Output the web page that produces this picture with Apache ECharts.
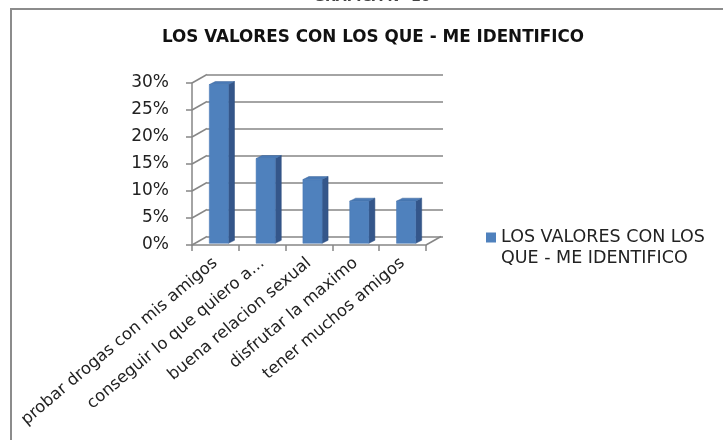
<!DOCTYPE html>
<html lang="es">
<head>
    <meta charset="UTF-8">
    <title>Los valores con los que me identifico</title>
    <script src="https://cdn.jsdelivr.net/npm/echarts@6/dist/echarts.min.js"></script>
    <style>
        html, body { margin: 0; padding: 0; background: #fff; }
        #chart_wrap { width: 723px; height: 440px; }
    </style>
</head>
<body>
<div id="chart_wrap"></div>
<script type="text/javascript">
// datos
var categories = ["probar drogas con mis amigos", "conseguir lo que quiero a...", "buena relacion sexual", "disfrutar la maximo", "tener muchos amigos"];
var values = [0.294, 0.157, 0.118, 0.078, 0.078];
var yTicks = [0, 0.05, 0.1, 0.15, 0.2, 0.25, 0.3];
var seriesName = "LOS VALORES CON LOS QUE - ME IDENTIFICO";

// profundidad del "3D"
var DX = 15, DY = -8.5;
var FONT = "DejaVu Sans";

var chart = echarts.init(document.getElementById("chart_wrap"));

// barras con cara frontal, lateral y superior
function renderBar(params, api) {
    var top = api.coord([api.value(0), api.value(1)]);
    var base = api.coord([api.value(0), 0]);
    var band = api.size([1, 0])[0];
    var w = band * 0.41;
    var x0 = top[0] - w / 2 + 3.5, x1 = x0 + w;
    var yt = top[1] - 1.7, yb = base[1] - 1.7;
    var dx = 6, dy = -3;
    return {
        type: "group",
        children: [
            { type: "polygon", shape: { points: [[x1, yt], [x1 + dx, yt + dy], [x1 + dx, yb + dy], [x1, yb]] },
              style: { fill: "#34568a", stroke: "#2f4f7e", lineWidth: 0.5 } },
            { type: "polygon", shape: { points: [[x0, yt], [x0 + dx, yt + dy], [x1 + dx, yt + dy], [x1, yt]] },
              style: { fill: "#4a7ab6", stroke: "#3b6298", lineWidth: 0.5 } },
            { type: "rect", shape: { x: x0, y: yt, width: w, height: yb - yt },
              style: { fill: "#4f81bd", stroke: "#4677b2", lineWidth: 0.5 } }
        ]
    };
}

// lineas diagonales de la pared lateral
function renderSide(params, api) {
    var p = api.coord([0, api.value(1)]);
    var band = api.size([1, 0])[0];
    var x = p[0] - band / 2;
    return { type: "line", shape: { x1: x, y1: p[1], x2: x + DX, y2: p[1] + DY },
             style: { stroke: "#868686", lineWidth: 1.5 } };
}

// borde derecho del piso
function renderFloor(params, api) {
    var p = api.coord([categories.length - 1, 0]);
    var band = api.size([1, 0])[0];
    var x = p[0] + band / 2;
    return { type: "line", shape: { x1: x, y1: p[1], x2: x + DX, y2: p[1] + DY },
             style: { stroke: "#868686", lineWidth: 1.5 } };
}

var option = {
    animation: false,
    textStyle: { fontFamily: FONT },
    graphic: [
        { type: "rect", shape: { x: 11, y: 9, width: 800, height: 500 },
          style: { fill: null, stroke: "#8c8c8c", lineWidth: 2 }, z: 0 },
        { type: "text", x: 372, y: 4.5,
          style: { text: "GRAFICA N° 10", fontFamily: FONT, fontWeight: "bold", fontSize: 14,
                   fill: "#444", align: "center", verticalAlign: "bottom" } }
    ],
    title: {
        text: "LOS VALORES CON LOS QUE - ME IDENTIFICO",
        left: 368, top: 24, textAlign: "center",
        textStyle: { fontFamily: FONT, fontWeight: "bold", fontSize: 16.8, color: "#111" }
    },
    legend: {
        data: [seriesName],
        left: 481, top: 201,
        icon: "rect", itemWidth: 10, itemHeight: 10,
        // linea vacia al inicio para que el cuadro quede junto a la primera linea
        formatter: function () { return "\nLOS VALORES CON LOS\nQUE - ME IDENTIFICO"; },
        textStyle: { fontFamily: FONT, fontSize: 17.5, color: "#222", lineHeight: 21 }
    },
    grid: [
        { left: 192, top: 83, width: 234, height: 162 },
        { left: 192 + DX, top: 83 + DY, width: 236, height: 162 }
    ],
    xAxis: [
        {
            type: "category", gridIndex: 0, data: categories,
            axisLine: { lineStyle: { color: "#868686", width: 1.5 } },
            axisTick: { show: true, length: 6, lineStyle: { color: "#868686", width: 1.5 } },
            axisLabel: { interval: 0, rotate: 40, margin: 16, fontFamily: FONT, fontSize: 16.5, color: "#222" }
        },
        { type: "category", gridIndex: 1, data: categories, show: false }
    ],
    yAxis: [
        {
            type: "value", gridIndex: 0, min: 0, max: 0.3, interval: 0.05,
            axisLine: { show: true, lineStyle: { color: "#868686", width: 1.5 } },
            axisTick: { show: true, length: 6, lineStyle: { color: "#868686", width: 1.5 } },
            splitLine: { show: false },
            axisLabel: { margin: 23, fontFamily: FONT, fontSize: 17, color: "#222",
                         formatter: function (v) { return Math.round(v * 100) + "%"; } }
        },
        {
            type: "value", gridIndex: 1, min: 0, max: 0.3, interval: 0.05,
            axisLine: { show: false }, axisTick: { show: false }, axisLabel: { show: false },
            splitLine: { show: true, lineStyle: { color: "#868686", width: 1.5 } }
        }
    ],
    series: [
        {
            name: "side", type: "custom", xAxisIndex: 0, yAxisIndex: 0,
            data: yTicks.map(function (v) { return [0, v]; }),
            encode: { x: 0, y: 1 }, renderItem: renderSide, silent: true, z: 1
        },
        {
            name: "floor", type: "custom", xAxisIndex: 0, yAxisIndex: 0,
            data: [[categories.length - 1, 0]],
            encode: { x: 0, y: 1 }, renderItem: renderFloor, silent: true, z: 1
        },
        {
            name: seriesName, type: "custom", xAxisIndex: 0, yAxisIndex: 0,
            itemStyle: { color: "#4f81bd" },
            data: values.map(function (v, i) { return [i, v]; }),
            encode: { x: 0, y: 1 }, renderItem: renderBar, z: 3
        }
    ]
};

chart.setOption(option);
</script>
</body>
</html>
